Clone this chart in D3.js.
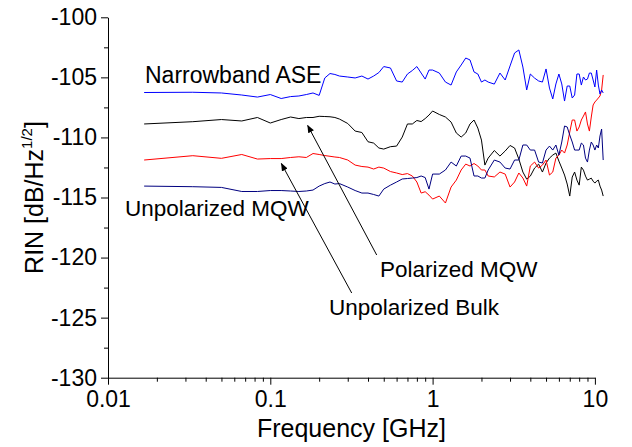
<!DOCTYPE html>
<html>
<head>
<meta charset="utf-8">
<script src="https://cdn.jsdelivr.net/npm/d3@7"></script>
<style>
  html, body { margin: 0; padding: 0; background: #fff; }
  svg { display: block; font-family: "Liberation Sans", Arial, sans-serif; }
</style>
</head>
<body>
<svg id="chart" width="632" height="447"></svg>
<script>
// Frequency grid (GHz)
const freqs = [0.0167,0.0333,0.05,0.0667,0.0833,0.1,0.1167,0.1333,0.15,0.1667,0.1833,0.2,0.2167,0.2333,0.25,
  0.2667,0.3,0.3333,0.3667,0.4,0.4333,0.4667,0.5,0.55,0.6,0.65,0.7,0.75,0.8,0.85,0.9,0.95,1.0,
  1.1,1.2,1.3,1.4,1.5,1.6,1.7,1.8,1.9,2.0,2.1,2.2,2.4,2.6,2.8,3.0,3.2,3.4,3.6,3.8,4.0,
  4.25,4.5,4.75,5.0,5.25,5.5,5.75,6.0,6.25,6.5,6.75,7.0,7.25,7.5,7.75,8.0,8.25,8.5,8.75,9.0,9.25,9.5,9.75,10.0,
  10.25,10.5,10.75,11.0,11.25];

const narrowbandASE = [-106.26,-106.24,-106.3,-106.47,-106.64,-106.43,-106.76,-106.6,-106.55,-106.43,-106.3,-106.5,-105.05,-104.68,-104.76,
  -104.89,-104.97,-105.05,-104.89,-105.14,-104.89,-104.6,-104.1,-104.22,-105.3,-105.39,-104.72,-104.43,-104.1,-104.64,-105.14,-104.39,-104.39,
  -104.64,-105.39,-105.64,-104.55,-103.97,-103.39,-103.55,-104.55,-104.72,-105.39,-105.22,-105.39,-105.56,-104.64,-105.22,-104.05,-102.97,-102.72,-104.14,-106.05,-104.72,
  -105.06,-105.3,-105.39,-104.3,-105.89,-106.8,-105.55,-104.72,-105.55,-106.97,-105.72,-105.72,-106.72,-106.47,-104.72,-104.72,-105.64,-104.97,-105.22,-105.14,-104.64,-104.64,-105.22,-105.8,
  -104.39,-105.64,-106.39,-106.05,-106.3];

const polarizedMQW = [-108.88,-108.69,-108.51,-108.63,-108.34,-108.8,-108.51,-108.3,-108.43,-108.34,-108.34,-108.24,-108.26,-108.28,-108.34,
  -108.47,-108.84,-109.47,-109.59,-110.36,-110.47,-110.88,-110.97,-110.77,-110.72,-109.97,-108.88,-108.88,-108.59,-108.68,-108.43,-108.14,-107.8,
  -108.09,-108.3,-108.72,-109.63,-109.97,-109.63,-108.88,-108.55,-109.22,-110.22,-112.3,-111.72,-111.09,-111.55,-111.13,-110.67,-110.88,-111.8,-112.88,-113.47,-113.22,
  -112.55,-112.22,-112.88,-112.13,-111.72,-111.47,-111.3,-111.97,-112.55,-113.13,-113.88,-114.88,-113.3,-112.88,-113.55,-113.97,-112.47,-112.72,-113.22,-113.55,-113.47,-113.39,-113.64,-113.8,
  -113.64,-113.55,-114.05,-114.38,-114.88];

const unpolarizedBulk = [-111.88,-111.52,-111.74,-111.42,-111.8,-111.76,-111.76,-111.67,-111.61,-111.67,-111.34,-111.42,-111.51,-111.57,-111.63,
  -111.67,-111.88,-112.3,-112.42,-112.47,-112.63,-112.47,-112.55,-112.84,-112.96,-113.09,-113.01,-113.21,-113.71,-114.63,-114.52,-114.8,-115.13,
  -114.88,-115.46,-114.13,-113.55,-112.71,-112.22,-112.38,-112.17,-112.38,-112.71,-112.71,-113.21,-113.29,-112.88,-113.05,-114.13,-113.71,-112.96,-113.38,-114.05,-112.38,
  -112.05,-112.55,-112.3,-111.88,-113.13,-112.88,-111.72,-111.47,-111.05,-111.3,-110.63,-109.55,-108.55,-108.55,-109.47,-109.13,-108.55,-108.22,-107.88,-108.88,-109.47,-108.3,-107.3,-107.05,
  -106.89,-106.72,-106.55,-106.05,-104.8];

const unpolarizedMQW = [-114.05,-114.1,-114.16,-114.5,-114.5,-114.42,-114.42,-114.46,-114.5,-114.46,-114.38,-114.05,-113.84,-113.71,-113.88,
  -113.84,-114.13,-114.42,-114.63,-114.63,-114.75,-114.88,-114.3,-113.97,-113.71,-113.46,-113.42,-113.38,-113.34,-113.21,-113.34,-114.3,-113.05,
  -113.05,-112.71,-112.05,-112.38,-111.55,-111.55,-111.72,-113.21,-113.21,-113.38,-113.38,-112.71,-111.88,-112.05,-112.55,-112.63,-111.88,-111.88,-110.63,-110.63,-111.05,
  -111.05,-112.05,-112.13,-111.05,-110.72,-111.05,-110.63,-111.47,-110.38,-109.05,-109.13,-109.8,-110.38,-111.05,-111.05,-111.05,-110.47,-110.63,-111.72,-112.05,-111.05,-110.38,-110.63,-111.05,
  -110.63,-110.88,-109.88,-109.3,-111.88];

const xMajorTicks = [0.01, 0.1, 1, 10];
const xTickLabels = ["0.01", "0.1", "1", "10"];
const yMajorTicks = [-130, -125, -120, -115, -110, -105, -100];
const yMinorTicks = [-127.5, -122.5, -117.5, -112.5, -107.5, -102.5];

const seriesList = [
  { name: "Polarized MQW", values: polarizedMQW, color: "#000000" },
  { name: "Unpolarized Bulk", values: unpolarizedBulk, color: "#ff0000" },
  { name: "Unpolarized MQW", values: unpolarizedMQW, color: "#000080" },
  { name: "Narrowband ASE", values: narrowbandASE, color: "#0000ff" }
];

const svg = d3.select("#chart");
const x = d3.scaleLog().domain([0.01, 10]).range([108, 594.9]);
const y = d3.scaleLinear().domain([-130, -100]).range([377.7, 17.3]);

// minor x ticks
const xMinor = [];
[0.01, 0.1, 1].forEach(d => { for (let k = 2; k <= 9; k++) xMinor.push(d * k); });

const fontFam = '"Liberation Sans", Arial, sans-serif';

// X axis
const gx = svg.append("g").attr("transform", `translate(0,${y(-130)})`);
gx.call(d3.axisBottom(x).tickValues(xMinor).tickSize(4).tickFormat(""))
  .call(g => g.select(".domain").remove());
gx.append("g").call(d3.axisBottom(x).tickValues(xMajorTicks).tickSize(7).tickSizeOuter(0).tickPadding(6)
    .tickFormat((d, i) => xTickLabels[i]))
  .call(g => g.selectAll("text").attr("font-size", 23).attr("font-family", fontFam).attr("fill", "#000"));
gx.selectAll("line,path").attr("stroke", "#000").attr("stroke-width", 1);

// Y axis
const gy = svg.append("g").attr("transform", `translate(${x(0.01)},0)`);
gy.call(d3.axisLeft(y).tickValues(yMinorTicks).tickSize(4).tickFormat(""))
  .call(g => g.select(".domain").remove());
gy.append("g").call(d3.axisLeft(y).tickValues(yMajorTicks).tickSize(7).tickSizeOuter(0).tickPadding(4)
    .tickFormat(d => String(d)))
  .call(g => g.selectAll("text").attr("font-size", 23).attr("font-family", fontFam).attr("fill", "#000"));
gy.selectAll("line,path").attr("stroke", "#000").attr("stroke-width", 1);

// Lines
const line = d3.line().x((d, i) => x(freqs[i])).y(d => y(d));
seriesList.forEach(s => {
  svg.append("path").datum(s.values)
    .attr("fill", "none").attr("stroke", s.color).attr("stroke-width", 1)
    .attr("stroke-linejoin", "round")
    .attr("d", line);
});

// Axis titles
svg.append("text").attr("x", (x(0.01) + x(10)) / 2).attr("y", 437)
  .attr("text-anchor", "middle").attr("font-size", 25).attr("font-family", fontFam)
  .text("Frequency [GHz]");

const yt = svg.append("text").attr("transform", `translate(43,${(y(-100) + y(-130)) / 2}) rotate(-90)`)
  .attr("text-anchor", "middle").attr("font-size", 25).attr("font-family", fontFam);
yt.append("tspan").text("RIN [dB/Hz");
yt.append("tspan").attr("font-size", 15).attr("dy", -11).text("1/2");
yt.append("tspan").attr("dy", 11).text("]");

// Annotations
const annFont = 22.5;
svg.append("text").attr("x", 145).attr("y", 83).attr("font-size", 23).attr("font-family", fontFam).text("Narrowband ASE");
svg.append("text").attr("x", 125).attr("y", 216).attr("font-size", annFont).attr("font-family", fontFam).text("Unpolarized MQW");
svg.append("text").attr("x", 380).attr("y", 277).attr("font-size", annFont).attr("font-family", fontFam).text("Polarized MQW");
svg.append("text").attr("x", 329).attr("y", 315).attr("font-size", annFont).attr("font-family", fontFam).text("Unpolarized Bulk");

// Arrow marker
svg.append("defs").append("marker").attr("id", "arr")
  .attr("viewBox", "0 0 10 10").attr("refX", 9).attr("refY", 5)
  .attr("markerWidth", 8).attr("markerHeight", 8).attr("markerUnits", "userSpaceOnUse")
  .attr("orient", "auto")
  .append("path").attr("d", "M0,1 L10,5 L0,9 z").attr("fill", "#000");

// Arrows: start near label, tip just below the curve
const arrows = [
  { from: [376.7, 255], toF: 0.17, toV: polarizedMQW[9], gap: 8 },
  { from: [351.7, 293], toF: 0.117, toV: unpolarizedBulk[6], gap: 5 }
];
arrows.forEach(a => {
  const tx = x(a.toF), ty = y(a.toV) + a.gap;
  svg.append("line").attr("x1", a.from[0]).attr("y1", a.from[1]).attr("x2", tx).attr("y2", ty)
    .attr("stroke", "#000").attr("stroke-width", 1).attr("marker-end", "url(#arr)");
});
</script>
</body>
</html>
